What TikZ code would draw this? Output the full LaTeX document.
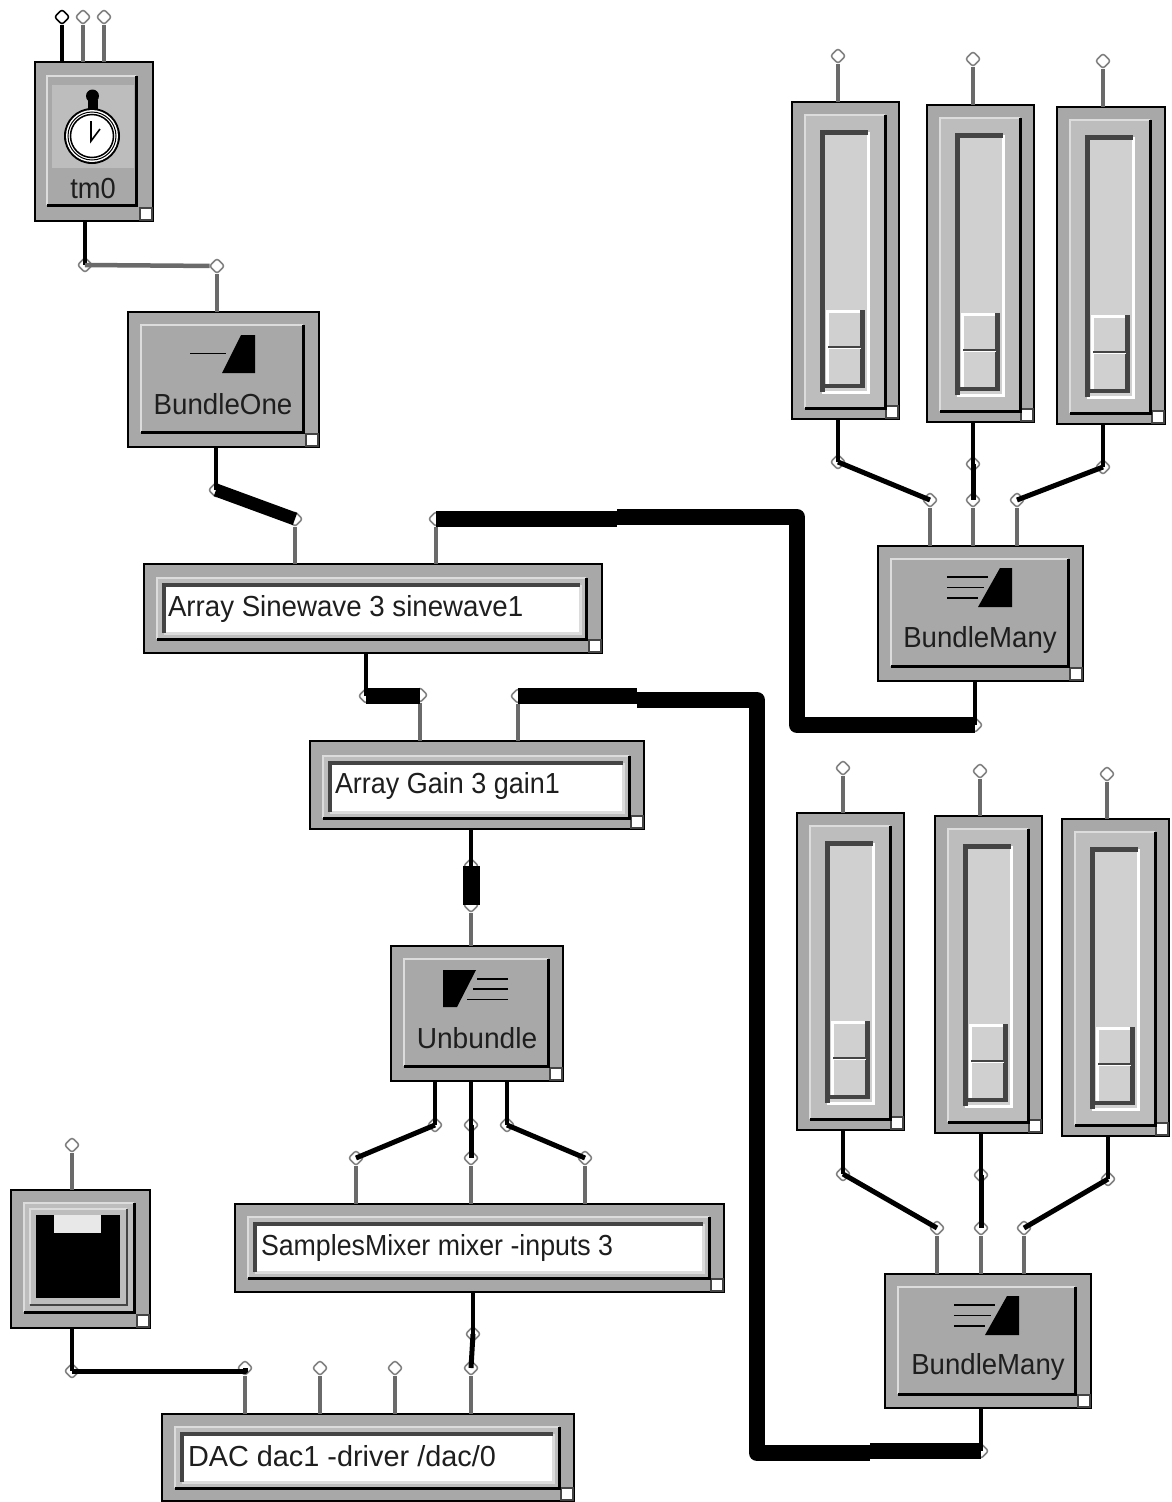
\documentclass[tikz,border=0pt]{standalone}
\usepackage{fontspec}
\setmainfont{Liberation Sans}
\definecolor{modgray}{HTML}{A8A8A8}
\definecolor{edgelight}{HTML}{DCDCDC}
\definecolor{panelgray}{HTML}{BDBDBD}
\definecolor{trackgray}{HTML}{D0D0D0}
\definecolor{wiregray}{HTML}{6A6A6A}
\definecolor{pingray}{HTML}{808080}
\definecolor{darkedge}{HTML}{444444}
\definecolor{inktext}{HTML}{1E1E1E}
\tikzset{
  module/.style={draw=black,line width=1.8pt,fill=modgray,rectangle,inner sep=0pt,outer sep=0pt},
  cornerbox/.style={draw=darkedge,line width=1.2pt,fill=white,rectangle,inner sep=0pt,outer sep=0pt,minimum size=12pt},
  pinnode/.style={diamond,rounded corners=2.5pt,draw=pingray,line width=1.5pt,fill=white,inner sep=0pt,outer sep=0pt,minimum size=15pt},
  wgray/.style={draw=wiregray,line width=4.5pt},
  wblack/.style={draw=black,line width=4.5pt},
  wdata/.style={draw=black,line width=5pt,line join=round},
  wthick/.style={draw=black,line width=16pt,line join=round},
  lbl/.style={inner sep=0pt,outer sep=0pt,text=inktext,font=\fontsize{29}{32}\selectfont},
  icon/.style={draw=black,line width=1.8pt},
}
\usetikzlibrary{shapes.geometric}
\newcommand\stretched[2]{\scalebox{#1}[1]{#2}}
\newcommand\modbox[5]{%
  \pgfmathsetmacro\modw{#4-#2}\pgfmathsetmacro\modh{#5-#3}%
  \pgfmathsetmacro\modcx{(#2+#4)/2}\pgfmathsetmacro\modcy{(#3+#5)/2}%
  \pgfmathsetmacro\modrx{#4-7}\pgfmathsetmacro\modry{#5-7}%
  \node[module,minimum width=\modw pt,minimum height=\modh pt] (#1) at (\modcx,\modcy) {};
  \node[cornerbox] (#1corner) at (\modrx,\modry) {};
}
\newcommand\raisedpanel[5]{%
  \fill[#5] (#1,#2) rectangle (#3,#4);
  \draw[edgelight,line width=2.5pt] (#1,#4) -- (#1,#2) -- (#3,#2);
  \draw[black,line width=3pt] (#1,#4) -- (#3,#4) -- (#3,#2);
}
\newcommand\textpanel[4]{%
  \fill[panelgray] (#1,#2) rectangle (#3,#4);
  \draw[edgelight,line width=2.5pt] (#1,#4) -- (#1,#2) -- (#3,#2);
  \draw[black,line width=3pt] (#1,#4) -- (#3,#4) -- (#3,#2);
  \pgfmathsetmacro\tpa{#1+7}\pgfmathsetmacro\tpb{#2+7}\pgfmathsetmacro\tpc{#3-6}\pgfmathsetmacro\tpd{#4-6}%
  \fill[white] (\tpa,\tpb) rectangle (\tpc,\tpd);
  \draw[edgelight,line width=3pt] (\tpa,\tpd) -- (\tpc,\tpd) -- (\tpc,\tpb);
  \draw[darkedge,line width=4pt] (\tpa,\tpd) -- (\tpa,\tpb) -- (\tpc,\tpb);
}
% slider with its top-left corner at #2,#3 and width #4
\newcommand\slidermod[4]{%
  \pgfmathsetmacro\slr{#2+#4}\pgfmathsetmacro\slb{#3+317}%
  \modbox{#1}{#2}{#3}{\slr}{\slb}
  \begin{scope}[shift={(#2,#3)}]
    \raisedpanel{13}{13}{93}{306}{panelgray}
    \fill[trackgray] (30,30) rectangle (76,290);
    \draw[white,line width=2.5pt] (30,290.5) -- (76.5,290.5) -- (76.5,30);
    \draw[darkedge,line width=4.5pt] (30.5,290) -- (30.5,30.5) -- (76,30.5);
    \draw[white,line width=3.5pt] (35.5,284) -- (35.5,209.5) -- (70,209.5);
    \draw[darkedge,line width=4.5pt] (33,284) -- (70.5,284) -- (70.5,208);
    \draw[darkedge,line width=2pt] (36,244.5) -- (69,244.5);
    \draw[white,line width=1.5pt] (36,246.5) -- (69,246.5);
  \end{scope}
}
\newcommand\bundlemany[5]{% name, x0,y0,x1,y1
  \modbox{#1}{#2}{#3}{#4}{#5}
  \begin{scope}[shift={(#2,#3)}]
    \raisedpanel{13}{13}{190}{120}{modgray}
    \draw[icon] (69,31) -- (110,31) (69,41.5) -- (106,41.5) (69,52) -- (100,52);
    \fill[black] (100,61) -- (122,22) -- (134,22) -- (134,61) -- cycle;
  \end{scope}
}
\begin{document}
\begin{tikzpicture}[x=1pt,y=-1pt]
\useasboundingbox (0,0) rectangle (1171,1502);
\fill[white] (0,0) rectangle (1171,1502);

% ---------- modules
\modbox{tm}{35}{62}{153}{221}
\raisedpanel{47}{76}{136}{205}{modgray}
\fill[panelgray] (52,85) rectangle (134,168);
\fill[black] (87.5,100) rectangle (97.5,112);
\fill[black] (92.5,96) circle (6.5);
\fill[black] (92,136) circle (28);
\fill[white] (92,136) circle (26);
\draw[black,line width=1pt] (92,136) circle (24);
\fill[white] (92,136) circle (22);
\draw[black,line width=1.5pt] (92,136) circle (21.5);
\draw[black,line width=1.6pt] (91,121) -- (91,141) -- (100,129);
\node[lbl] (tmtext) at (93,188.5) {\stretched{0.94}{tm0}};

\modbox{bone}{128}{312}{319}{447}
\raisedpanel{141}{325}{303}{432}{modgray}
\draw[icon] (190,353.5) -- (226,353.5);
\fill[black] (222,373) -- (241,335) -- (255,335) -- (255,373) -- cycle;
\node[lbl] (bonetext) at (223,404) {\stretched{0.956}{BundleOne}};

\modbox{sine}{144}{564}{602}{653}
\textpanel{157}{578}{586}{639}
\node[lbl,anchor=west] (sinetext) at (168,609) {\stretched{0.954}{Array Sinewave 3 sinewave1}};

\modbox{gain}{310}{741}{644}{829}
\textpanel{323}{756}{629}{818}
\node[lbl,anchor=west] (gaintext) at (335,786) {\stretched{0.93}{Array Gain 3 gain1}};

\modbox{unb}{391}{946}{563}{1081}
\raisedpanel{404}{959}{548}{1066}{modgray}
\fill[black] (443,970) -- (476,970) -- (457,1007) -- (443,1007) -- cycle;
\draw[icon] (477,979) -- (508,979) (473,989) -- (508,989) (467,999.5) -- (508,999.5);
\node[lbl] (unbtext) at (477,1038) {\stretched{0.97}{Unbundle}};

\modbox{mix}{235}{1204}{724}{1292}
\textpanel{248}{1217}{709}{1278}
\node[lbl,anchor=west] (mixtext) at (261,1248) {\stretched{0.922}{SamplesMixer mixer -inputs 3}};

\modbox{dac}{162}{1414}{574}{1501}
\textpanel{175}{1427}{559}{1488}
\node[lbl,anchor=west] (dactext) at (188,1456) {\stretched{0.995}{DAC dac1 -driver /dac/0}};

\modbox{tog}{11}{1190}{150}{1328}
\raisedpanel{24}{1203}{134}{1312}{panelgray}
\draw[edgelight,line width=2.5pt] (30,1304) -- (30,1209) -- (127,1209);
\draw[darkedge,line width=2.5pt] (30,1305) -- (127,1305) -- (127,1209);
\fill[black] (36,1215) rectangle (120,1298);
\fill[black!9] (54,1215) rectangle (101,1233);

\slidermod{sla}{792}{102}{107}
\slidermod{slb}{927}{105}{107}
\slidermod{slc}{1057}{107}{108}
\slidermod{sld}{797}{813}{107}
\slidermod{sle}{935}{816}{107}
\slidermod{slf}{1062}{819}{107}

\bundlemany{bma}{878}{546}{1083}{681}
\node[lbl] (bmatext) at (980,640) {\stretched{0.951}{BundleMany}};
\bundlemany{bmb}{885}{1274}{1091}{1408}
\node[lbl] (bmbtext) at (988,1367) {\stretched{0.951}{BundleMany}};

% ---------- pins
\node[pinnode,draw=black] (ta) at (62,17) {};
\foreach \pn/\px/\py in {
  tb/83/17,tc/104/17,tout/85/265,bin/217/266,bout/216/490,
  sa/295/519,sb/436/519,sout/366/696,ga/420/695,gb/518/696,gout/471/866,
  uin/471/905,ua/435/1125,ub/471/1125,uc/507/1125,ma/356/1158,mb/471/1158,mc/585/1158,
  mout/473/1334,togin/72/1145,togout/72/1371,da/245/1368,db/320/1368,dc/395/1368,dd/471/1368,
  slai/838/56,slbi/973/59,slci/1103/61,slao/838/462,slbo/973/464,slco/1103/467,
  bmaa/930/500,bmab/973/500,bmac/1017/500,bmao/975/725,
  sldi/843/768,slei/980/771,slfi/1107/774,sldo/843/1174,sleo/981/1175,slfo/1108/1179,
  bmba/937/1228,bmbb/981/1228,bmbc/1024/1228,bmbo/981/1451}
  {\node[pinnode] (\pn) at (\px,\py) {};}

% ---------- wires into module tops
\draw[wblack] (ta) -- (ta |- tm.north);
\draw[wgray] (tb) -- (tb |- tm.north);
\draw[wgray] (tc) -- (tc |- tm.north);
\draw[wgray] (bin) -- (bin |- bone.north);
\draw[wgray] (sa) -- (sa |- sine.north);
\draw[wgray] (sb) -- (sb |- sine.north);
\draw[wgray] (ga) -- (ga |- gain.north);
\draw[wgray] (gb) -- (gb |- gain.north);
\draw[wgray] (uin) -- (uin |- unb.north);
\draw[wgray] (ma) -- (ma |- mix.north);
\draw[wgray] (mb) -- (mb |- mix.north);
\draw[wgray] (mc) -- (mc |- mix.north);
\draw[wgray] (togin) -- (togin |- tog.north);
\draw[wgray] (da) -- (da |- dac.north);
\draw[wgray] (db) -- (db |- dac.north);
\draw[wgray] (dc) -- (dc |- dac.north);
\draw[wgray] (dd) -- (dd |- dac.north);
\draw[wgray] (slai) -- (slai |- sla.north);
\draw[wgray] (slbi) -- (slbi |- slb.north);
\draw[wgray] (slci) -- (slci |- slc.north);
\draw[wgray] (sldi) -- (sldi |- sld.north);
\draw[wgray] (slei) -- (slei |- sle.north);
\draw[wgray] (slfi) -- (slfi |- slf.north);
\draw[wgray] (bmaa) -- (bmaa |- bma.north);
\draw[wgray] (bmab) -- (bmab |- bma.north);
\draw[wgray] (bmac) -- (bmac |- bma.north);
\draw[wgray] (bmba) -- (bmba |- bmb.north);
\draw[wgray] (bmbb) -- (bmbb |- bmb.north);
\draw[wgray] (bmbc) -- (bmbc |- bmb.north);

% ---------- wires out of module bottoms
\draw[wblack] (tm.south -| tout) -- (tout.center);
\draw[wblack] (bone.south -| bout) -- (bout.center);
\draw[wblack] (sine.south -| sout) -- (sout.center);
\draw[wblack] (gain.south -| gout) -- (gout.center);
\draw[wblack] (unb.south -| ua) -- (ua.center);
\draw[wblack] (unb.south -| ub) -- (ub.center);
\draw[wblack] (unb.south -| uc) -- (uc.center);
\draw[wblack] (mix.south -| mout) -- (mout.center);
\draw[wblack] (tog.south -| togout) -- (togout.center);
\draw[wblack] (sla.south -| slao) -- (slao.center);
\draw[wblack] (slb.south -| slbo) -- (slbo.center);
\draw[wblack] (slc.south -| slco) -- (slco.center);
\draw[wblack] (sld.south -| sldo) -- (sldo.center);
\draw[wblack] (sle.south -| sleo) -- (sleo.center);
\draw[wblack] (slf.south -| slfo) -- (slfo.center);
\draw[wblack] (bma.south -| bmao) -- (bmao.center);
\draw[wblack] (bmb.south -| bmbo) -- (bmbo.center);

% ---------- patch cords
\draw[wgray] (tout.center) -- (bin);
\draw[wthick,line width=13pt] (bout.center) -- (sa.center);
\draw[wdata] (togout.center) -- (togout -| da) -- (da.center);
\draw[wdata] (mout.center) -- (dd.center);
\draw[wdata] (ua.center) -- (ma.center);
\draw[wdata] (ub.center) -- (mb.center);
\draw[wdata] (uc.center) -- (mc.center);
\draw[wdata] (slao.center) -- (bmaa.center);
\draw[wdata] (slbo.center) -- (bmab.center);
\draw[wdata] (slco.center) -- (bmac.center);
\draw[wdata] (sldo.center) -- (bmba.center);
\draw[wdata] (sleo.center) -- (bmbb.center);
\draw[wdata] (slfo.center) -- (bmbc.center);
\draw[wthick] (sout.center) -- (ga.center |- sout.center);
\draw[wthick,line width=17pt] (gout.center) -- (uin.center);
\draw[wthick] (sb.center) -- (617,519) (617,517) -- (797,517) -- (797,725) -- (bmao.center);
\draw[wthick] (gb.center) -- (637,696) (637,700) -- (757,700) -- (757,1453) -- (870,1453) (870,1451) -- (bmbo.center);
\end{tikzpicture}
\end{document}
